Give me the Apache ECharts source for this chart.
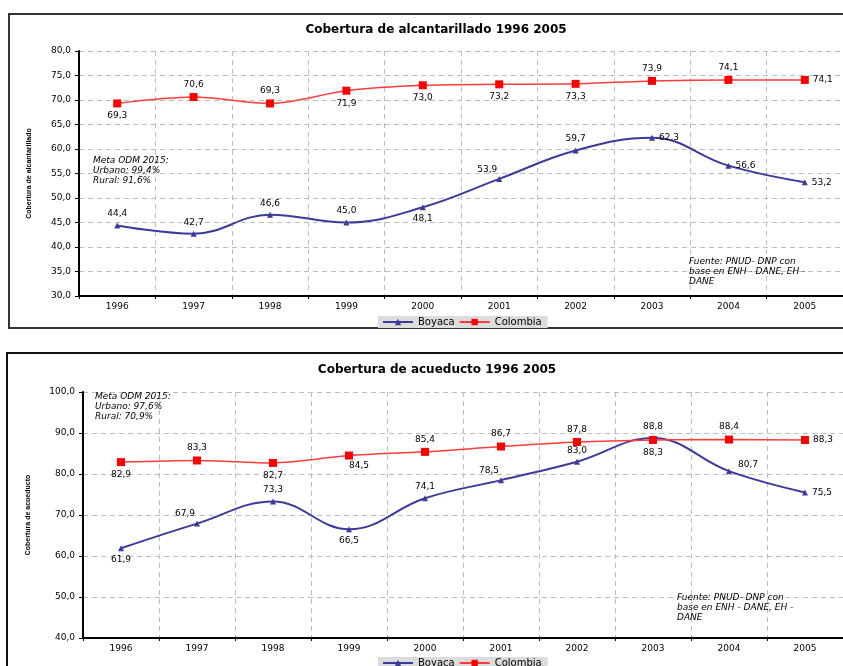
<!DOCTYPE html>
<html>
<head>
<meta charset="utf-8">
<script src="https://cdn.jsdelivr.net/npm/echarts@6/dist/echarts.min.js"></script>
<style>
  html, body { margin: 0; padding: 0; background: #fff; }
  #chart { width: 843px; height: 666px; }
</style>
</head>
<body>
<div id="chart"></div>
<script>
// Años
const years = ['1996', '1997', '1998', '1999', '2000', '2001', '2002', '2003', '2004', '2005'];

// Cobertura de alcantarillado (%)
const alcBoyaca = [44.4, 42.7, 46.6, 45.0, 48.1, 53.9, 59.7, 62.3, 56.6, 53.2];
const alcColombia = [69.3, 70.6, 69.3, 71.9, 73.0, 73.2, 73.3, 73.9, 74.1, 74.1];

// Cobertura de acueducto (%)
const acuBoyaca = [61.9, 67.9, 73.3, 66.5, 74.1, 78.5, 83.0, 88.8, 80.7, 75.5];
const acuColombia = [82.9, 83.3, 82.7, 84.5, 85.4, 86.7, 87.8, 88.3, 88.4, 88.3];

// Label placement per point (style only)
const alcBoyacaPos = ['top', 'top', 'top', 'top', 'bottom', 'tl', 'top', 'right', 'right', 'right'];
const alcColombiaPos = ['bottom', 'top', 'top', 'bottom', 'bottom', 'bottom', 'bottom', 'top', 'top', 'right'];
const acuBoyacaPos = ['bottom', 'tl', 'top', 'bottom', 'top', 'tl', 'top', 'top', 'tr', 'right'];
const acuColombiaPos = ['bottom', 'top', 'bottom', 'br', 'top', 'top', 'top', 'bottom', 'top', 'right'];

const FONT = 'DejaVu Sans';
const BLUE = '#3b3b9c';
const RED = '#ff0000';
const fmt = v => v.toFixed(1).replace('.', ',');

function placed(values, pos) {
  return values.map((v, i) => {
    const p = pos[i];
    let label = { position: p };
    if (p === 'tl') label = { position: 'top', offset: [-12, 2] };
    if (p === 'tr') label = { position: 'right', offset: [2, -6] };
    if (p === 'br') label = { position: 'bottom', offset: [10, -2] };
    return { value: v, label };
  });
}

const chart = echarts.init(document.getElementById('chart'), null, { renderer: 'canvas' });

const xAxisBase = (gridIndex) => ({
  type: 'category',
  gridIndex,
  data: years,
  boundaryGap: true,
  axisLine: { lineStyle: { color: '#000', width: 2 } },
  axisTick: { show: true, interval: 0, length: 3, lineStyle: { color: '#000' } },
  axisLabel: { color: '#000', fontFamily: FONT, fontSize: 9, margin: 6, interval: 0 },
  splitLine: { show: true, interval: 0, lineStyle: { color: '#bdbdbd', type: [5, 4], width: 1 } }
});

const yAxisBase = (gridIndex, min, max, interval, name, nameGap) => ({
  type: 'value',
  gridIndex,
  min, max, interval,
  name,
  nameLocation: 'middle',
  nameGap,
  nameRotate: 90,
  nameTextStyle: { color: '#000', fontFamily: 'Liberation Sans', fontSize: 7, fontWeight: 'bold' },
  axisLine: { show: true, lineStyle: { color: '#000', width: 2 } },
  axisTick: { show: true, length: 4, lineStyle: { color: '#000' } },
  axisLabel: { color: '#000', fontFamily: FONT, fontSize: 9, margin: 8, formatter: fmt },
  splitLine: { show: true, lineStyle: { color: '#bdbdbd', type: [5, 4], width: 1 } }
});

const labelStyle = { show: true, fontFamily: FONT, fontSize: 9, color: '#000', distance: 4, formatter: p => fmt(p.value) };

function boyacaSeries(data, pos, axis) {
  return {
    name: 'Boyaca', type: 'line', smooth: 0.4,
    xAxisIndex: axis, yAxisIndex: axis,
    data: placed(data, pos),
    symbol: 'triangle', symbolSize: 6,
    itemStyle: { color: BLUE },
    lineStyle: { color: BLUE, width: 2 },
    label: labelStyle, z: 3
  };
}
function colombiaSeries(data, pos, axis) {
  return {
    name: 'Colombia', type: 'line', smooth: 0.3,
    xAxisIndex: axis, yAxisIndex: axis,
    data: placed(data, pos),
    symbol: 'rect', symbolSize: 8,
    itemStyle: { color: RED },
    lineStyle: { color: '#ff3b3b', width: 1.5 },
    label: labelStyle, z: 4
  };
}

const legendBase = (top) => ({
  left: 378, top,
  data: ['Boyaca', 'Colombia'],
  itemWidth: 30, itemHeight: 8, itemGap: 4,
  backgroundColor: '#dcdcdc',
  padding: [1, 6, 1, 4],
  textStyle: { fontFamily: FONT, fontSize: 10, color: '#000' },
  selectedMode: false
});

const noteText = (left, top, text) => ({
  type: 'text', left, top, z: 10,
  style: { text, fontFamily: FONT, fontSize: 9, fontStyle: 'italic', fill: '#000', lineHeight: 10 }
});

const titleStyle = { fontFamily: FONT, fontSize: 12, fontWeight: 'bold', color: '#000' };

chart.setOption({
  animation: false,
  backgroundColor: '#fff',
  title: [
    { text: 'Cobertura de alcantarillado 1996 2005', left: 431, top: 19, textAlign: 'center', textStyle: titleStyle },
    { text: 'Cobertura de acueducto 1996 2005', left: 432, top: 359, textAlign: 'center', textStyle: titleStyle }
  ],
  grid: [
    { left: 79, top: 51, width: 766, height: 245 },
    { left: 83, top: 392, width: 765, height: 246 }
  ],
  xAxis: [xAxisBase(0), xAxisBase(1)],
  yAxis: [
    yAxisBase(0, 30, 80, 5, 'Cobertura de alcantarillado', 46),
    yAxisBase(1, 40, 100, 10, 'Cobertura de acueducto', 51)
  ],
  legend: [legendBase(316), legendBase(657)],
  series: [
    boyacaSeries(alcBoyaca, alcBoyacaPos, 0),
    colombiaSeries(alcColombia, alcColombiaPos, 0),
    boyacaSeries(acuBoyaca, acuBoyacaPos, 1),
    colombiaSeries(acuColombia, acuColombiaPos, 1)
  ],
  graphic: [
    { type: 'rect', shape: { x: 9, y: 14, width: 850, height: 314 }, z: -1,
      style: { fill: 'none', stroke: '#333', lineWidth: 2 } },
    { type: 'rect', shape: { x: 7, y: 353, width: 850, height: 330 }, z: -1,
      style: { fill: 'none', stroke: '#111', lineWidth: 2 } },
    noteText(93, 156, 'Meta ODM 2015:\nUrbano: 99,4%\nRural: 91,6%'),
    noteText(689, 257, 'Fuente: PNUD- DNP con\nbase en ENH - DANE, EH -\nDANE'),
    noteText(95, 392, 'Meta ODM 2015:\nUrbano: 97,6%\nRural: 70,9%'),
    noteText(677, 593, 'Fuente: PNUD- DNP con\nbase en ENH - DANE, EH -\nDANE')
  ]
});
</script>
</body>
</html>
